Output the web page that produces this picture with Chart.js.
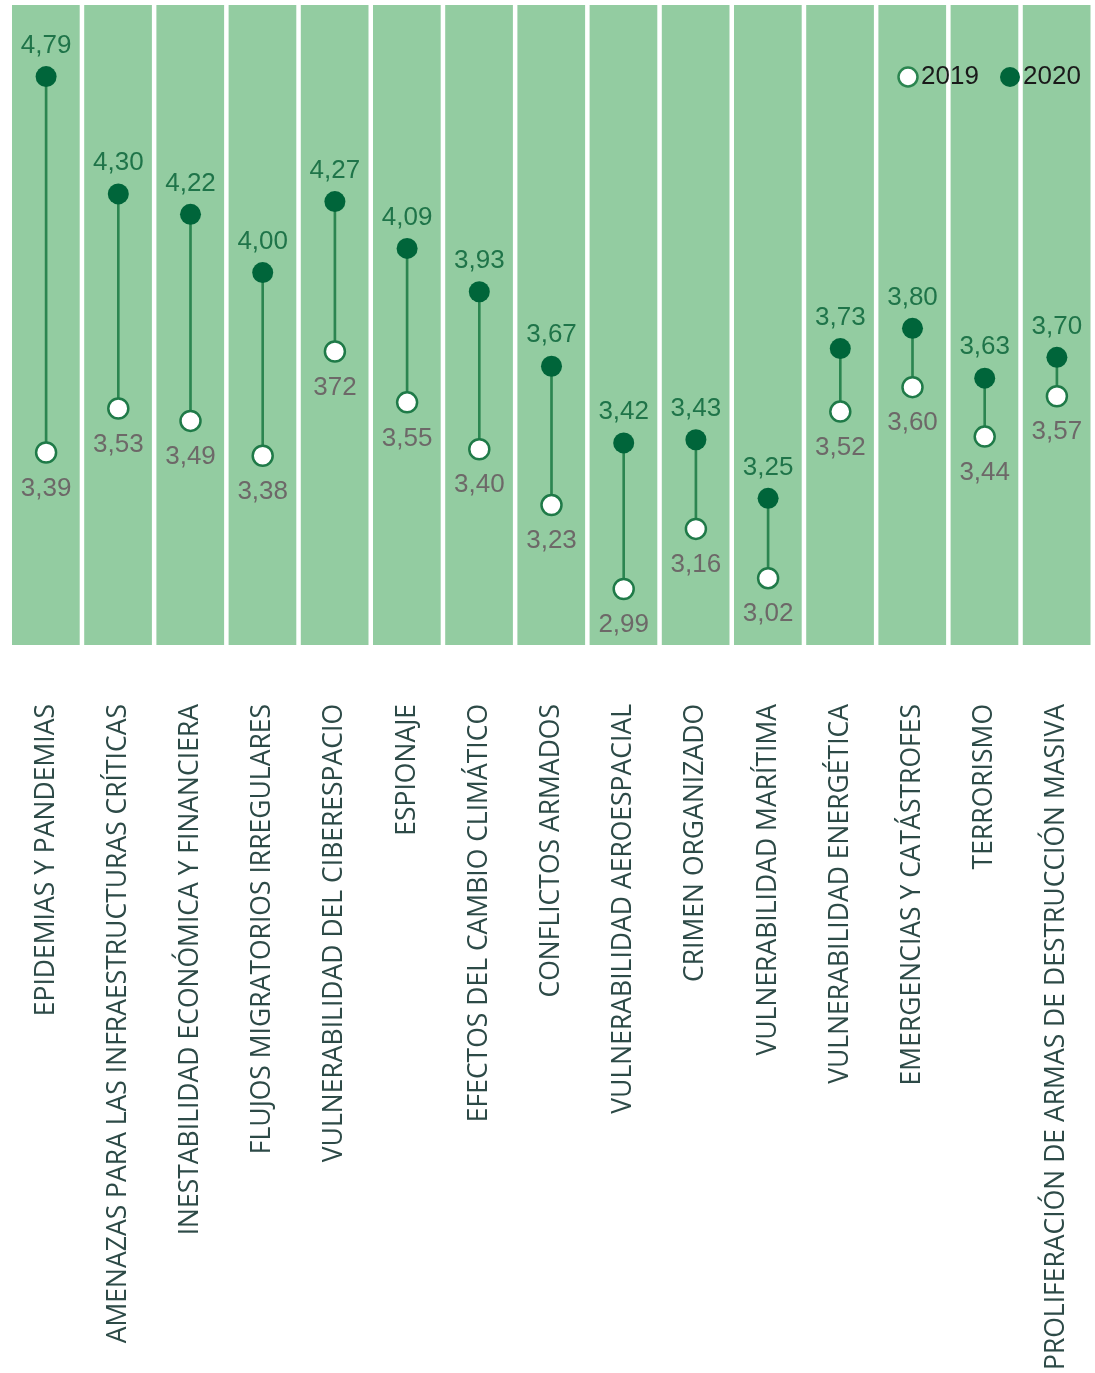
<!DOCTYPE html>
<html>
<head>
<meta charset="utf-8">
<script src="https://cdn.jsdelivr.net/npm/chart.js@4"></script>
<style>
  html, body { margin: 0; padding: 0; background: #fff; }
  #wrap { width: 1095px; height: 1373px; position: relative; }
</style>
</head>
<body>
<div id="wrap"><canvas id="chart"></canvas></div>
<script>
const categories = [
    'EPIDEMIAS Y PANDEMIAS',
    'AMENAZAS PARA LAS INFRAESTRUCTURAS CRÍTICAS',
    'INESTABILIDAD ECONÓMICA Y FINANCIERA',
    'FLUJOS MIGRATORIOS IRREGULARES',
    'VULNERABILIDAD DEL CIBERESPACIO',
    'ESPIONAJE',
    'EFECTOS DEL CAMBIO CLIMÁTICO',
    'CONFLICTOS ARMADOS',
    'VULNERABILIDAD AEROESPACIAL',
    'CRIMEN ORGANIZADO',
    'VULNERABILIDAD MARÍTIMA',
    'VULNERABILIDAD ENERGÉTICA',
    'EMERGENCIAS Y CATÁSTROFES',
    'TERRORISMO',
    'PROLIFERACIÓN DE ARMAS DE DESTRUCCIÓN MASIVA'
];
const values2019 = [3.39, 3.53, 3.49, 3.38, 3.72, 3.55, 3.40, 3.23, 2.99, 3.16, 3.02, 3.52, 3.60, 3.44, 3.57];
const values2020 = [4.79, 4.30, 4.22, 4.00, 4.27, 4.09, 3.93, 3.67, 3.42, 3.43, 3.25, 3.73, 3.80, 3.63, 3.70];
// the original prints "372" for the ciberespacio 2019 value
const labels2019 = ['3,39', '3,53', '3,49', '3,38', '372', '3,55', '3,40', '3,23', '2,99', '3,16', '3,02', '3,52', '3,60', '3,44', '3,57'];
const labels2020 = values2020.map(v => v.toFixed(2).replace('.', ','));
const seriesNames = ['2019', '2020'];

const DARK = '#00653a';
const LINE = '#2b8550';
const COLUMN = '#93cca1';
const VFONT = '26px "Liberation Sans", Arial, sans-serif';

const columnsPlugin = {
    id: 'columns',
    beforeDatasetsDraw(chart) {
        const { ctx, chartArea, scales } = chart;
        const step = scales.x.width / categories.length;
        ctx.save();
        ctx.fillStyle = COLUMN;
        categories.forEach((c, i) => {
            const cx = scales.x.getPixelForValue(i);
            ctx.fillRect(cx - step / 2 + 2, chartArea.top, step - 4.5, chartArea.bottom - chartArea.top);
        });
        ctx.restore();
    }
};

const labelsPlugin = {
    id: 'valueLabels',
    afterDatasetsDraw(chart) {
        const { ctx } = chart;
        const m2019 = chart.getDatasetMeta(1);
        const m2020 = chart.getDatasetMeta(2);
        ctx.save();
        ctx.font = VFONT;
        ctx.textAlign = 'center';
        ctx.textBaseline = 'middle';
        m2020.data.forEach((pt, i) => {
            ctx.fillStyle = '#1f7449';
            ctx.fillText(labels2020[i], pt.x, pt.y - 31);
        });
        m2019.data.forEach((pt, i) => {
            ctx.fillStyle = '#6d6868';
            ctx.fillText(labels2019[i], pt.x, pt.y + 36);
        });
        ctx.restore();
    },
    afterDraw(chart) {
        // legend sits inside the plot, top right
        const { ctx } = chart;
        ctx.save();
        ctx.font = VFONT;
        ctx.textBaseline = 'middle';
        ctx.textAlign = 'left';
        ctx.beginPath();
        ctx.arc(908, 77, 9.5, 0, Math.PI * 2);
        ctx.fillStyle = '#fff';
        ctx.fill();
        ctx.lineWidth = 2.5;
        ctx.strokeStyle = LINE;
        ctx.stroke();
        ctx.fillStyle = '#1a1a1a';
        ctx.fillText(seriesNames[0], 921, 77);
        ctx.beginPath();
        ctx.arc(1010, 77, 10, 0, Math.PI * 2);
        ctx.fillStyle = DARK;
        ctx.fill();
        ctx.fillStyle = '#1a1a1a';
        ctx.fillText(seriesNames[1], 1023, 77);
        ctx.restore();
    }
};

new Chart(document.getElementById('chart'), {
    type: 'bar',
    data: {
        labels: categories,
        datasets: [
            {
                type: 'bar',
                label: 'rango',
                data: values2019.map((v, i) => [v, values2020[i]]),
                backgroundColor: LINE,
                barThickness: 2,
                order: 3
            },
            {
                type: 'line',
                label: seriesNames[0],
                data: values2019,
                showLine: false,
                pointRadius: 10,
                pointBackgroundColor: '#ffffff',
                pointBorderColor: '#1f7a48',
                pointBorderWidth: 2.5,
                order: 2
            },
            {
                type: 'line',
                label: seriesNames[1],
                data: values2020,
                showLine: false,
                pointRadius: 10.5,
                pointBackgroundColor: DARK,
                pointBorderColor: DARK,
                pointBorderWidth: 0,
                order: 1
            }
        ]
    },
    options: {
        responsive: true,
        maintainAspectRatio: false,
        animation: false,
        layout: { autoPadding: false, padding: { left: 10, right: 2, top: 5, bottom: 0 } },
        plugins: {
            legend: { display: false },
            tooltip: { enabled: false }
        },
        scales: {
            x: {
                offset: true,
                grid: { display: false, drawBorder: false },
                border: { display: false },
                ticks: {
                    minRotation: 90,
                    maxRotation: 90,
                    autoSkip: false,
                    padding: 51,
                    color: '#2d4a47',
                    font: { family: '"Open Sans", sans-serif', size: 26.5 }
                },
                afterFit(scale) {
                    scale.height = 728;
                    scale.paddingLeft = 0;
                    scale.paddingRight = 0;
                }
            },
            y: {
                type: 'logarithmic',
                display: false,
                min: 2.84,
                max: 5.116
            }
        }
    },
    plugins: [columnsPlugin, labelsPlugin]
});
</script>
</body>
</html>
